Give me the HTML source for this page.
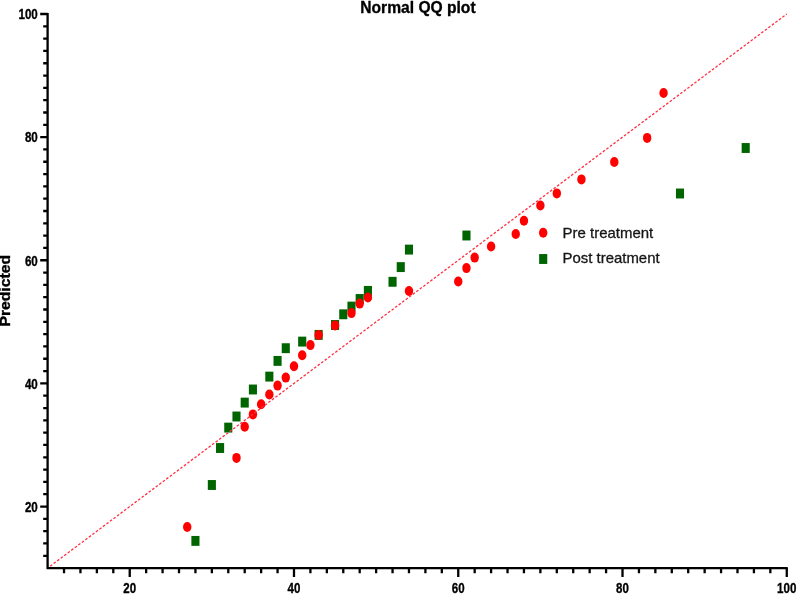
<!DOCTYPE html>
<html><head><meta charset="utf-8"><title>Normal QQ plot</title>
<style>
html,body{margin:0;padding:0;background:#fff;}
body{width:797px;height:595px;overflow:hidden;}
svg{display:block;font-family:'Liberation Sans', Arial, sans-serif;}
</style></head>
<body>
<svg width="797" height="595" viewBox="0 0 797 595">
<rect width="797" height="595" fill="#fff"/>
<rect x="191.38" y="535.95" width="8.1" height="9.9" fill="#006400"/>
<rect x="207.81" y="480.05" width="8.1" height="9.9" fill="#006400"/>
<rect x="216.02" y="443.05" width="8.1" height="9.9" fill="#006400"/>
<rect x="224.24" y="422.65" width="8.1" height="9.9" fill="#006400"/>
<rect x="232.45" y="411.55" width="8.1" height="9.9" fill="#006400"/>
<rect x="240.66" y="397.65" width="8.1" height="9.9" fill="#006400"/>
<rect x="248.87" y="384.55" width="8.1" height="9.9" fill="#006400"/>
<rect x="265.30" y="371.65" width="8.1" height="9.9" fill="#006400"/>
<rect x="273.51" y="355.95" width="8.1" height="9.9" fill="#006400"/>
<rect x="281.73" y="343.25" width="8.1" height="9.9" fill="#006400"/>
<rect x="298.15" y="336.65" width="8.1" height="9.9" fill="#006400"/>
<rect x="314.58" y="329.95" width="8.1" height="9.9" fill="#006400"/>
<rect x="331.00" y="320.05" width="8.1" height="9.9" fill="#006400"/>
<rect x="339.22" y="309.35" width="8.1" height="9.9" fill="#006400"/>
<rect x="347.43" y="301.65" width="8.1" height="9.9" fill="#006400"/>
<rect x="355.64" y="294.05" width="8.1" height="9.9" fill="#006400"/>
<rect x="363.86" y="285.95" width="8.1" height="9.9" fill="#006400"/>
<rect x="388.50" y="276.85" width="8.1" height="9.9" fill="#006400"/>
<rect x="396.71" y="262.15" width="8.1" height="9.9" fill="#006400"/>
<rect x="404.92" y="244.65" width="8.1" height="9.9" fill="#006400"/>
<rect x="462.41" y="230.55" width="8.1" height="9.9" fill="#006400"/>
<rect x="675.95" y="188.55" width="8.1" height="9.9" fill="#006400"/>
<rect x="741.65" y="143.05" width="8.1" height="9.9" fill="#006400"/>
<ellipse cx="187.22" cy="527.00" rx="4.2" ry="5.0" fill="#ff0000"/>
<ellipse cx="236.50" cy="457.90" rx="4.2" ry="5.0" fill="#ff0000"/>
<ellipse cx="244.71" cy="426.80" rx="4.2" ry="5.0" fill="#ff0000"/>
<ellipse cx="252.92" cy="414.40" rx="4.2" ry="5.0" fill="#ff0000"/>
<ellipse cx="261.14" cy="404.20" rx="4.2" ry="5.0" fill="#ff0000"/>
<ellipse cx="269.35" cy="394.50" rx="4.2" ry="5.0" fill="#ff0000"/>
<ellipse cx="277.56" cy="385.60" rx="4.2" ry="5.0" fill="#ff0000"/>
<ellipse cx="285.78" cy="377.60" rx="4.2" ry="5.0" fill="#ff0000"/>
<ellipse cx="293.99" cy="366.20" rx="4.2" ry="5.0" fill="#ff0000"/>
<ellipse cx="302.20" cy="355.20" rx="4.2" ry="5.0" fill="#ff0000"/>
<ellipse cx="310.42" cy="345.10" rx="4.2" ry="5.0" fill="#ff0000"/>
<ellipse cx="318.63" cy="335.00" rx="4.2" ry="5.0" fill="#ff0000"/>
<ellipse cx="335.06" cy="325.40" rx="4.2" ry="5.0" fill="#ff0000"/>
<ellipse cx="351.48" cy="313.10" rx="4.2" ry="5.0" fill="#ff0000"/>
<ellipse cx="359.69" cy="303.60" rx="4.2" ry="5.0" fill="#ff0000"/>
<ellipse cx="367.91" cy="297.50" rx="4.2" ry="5.0" fill="#ff0000"/>
<ellipse cx="408.97" cy="291.00" rx="4.2" ry="5.0" fill="#ff0000"/>
<ellipse cx="458.25" cy="281.50" rx="4.2" ry="5.0" fill="#ff0000"/>
<ellipse cx="466.46" cy="268.10" rx="4.2" ry="5.0" fill="#ff0000"/>
<ellipse cx="474.68" cy="257.60" rx="4.2" ry="5.0" fill="#ff0000"/>
<ellipse cx="491.10" cy="246.50" rx="4.2" ry="5.0" fill="#ff0000"/>
<ellipse cx="515.74" cy="234.00" rx="4.2" ry="5.0" fill="#ff0000"/>
<ellipse cx="523.95" cy="220.70" rx="4.2" ry="5.0" fill="#ff0000"/>
<ellipse cx="540.38" cy="205.50" rx="4.2" ry="5.0" fill="#ff0000"/>
<ellipse cx="556.81" cy="193.40" rx="4.2" ry="5.0" fill="#ff0000"/>
<ellipse cx="581.44" cy="179.40" rx="4.2" ry="5.0" fill="#ff0000"/>
<ellipse cx="614.30" cy="162.00" rx="4.2" ry="5.0" fill="#ff0000"/>
<ellipse cx="647.15" cy="137.90" rx="4.2" ry="5.0" fill="#ff0000"/>
<ellipse cx="663.57" cy="93.00" rx="4.2" ry="5.0" fill="#ff0000"/>
<line x1="47.60" y1="568.10" x2="786.77" y2="14.00" stroke="#ff3040" stroke-width="1.3" stroke-dasharray="2.6 1.8" stroke-dashoffset="1.25"/>
<path d="M47.60 13.00V569.10M46.60 568.10H787.77" stroke="#000" stroke-width="2.3" fill="none"/>
<path d="M43.2 555.79H47.60M43.2 543.47H47.60M43.2 531.16H47.60M43.2 518.85H47.60M40.2 506.53H47.60M43.2 494.22H47.60M43.2 481.91H47.60M43.2 469.59H47.60M43.2 457.28H47.60M43.2 444.97H47.60M43.2 432.65H47.60M43.2 420.34H47.60M43.2 408.03H47.60M43.2 395.71H47.60M40.2 383.40H47.60M43.2 371.09H47.60M43.2 358.77H47.60M43.2 346.46H47.60M43.2 334.15H47.60M43.2 321.83H47.60M43.2 309.52H47.60M43.2 297.21H47.60M43.2 284.89H47.60M43.2 272.58H47.60M40.2 260.27H47.60M43.2 247.95H47.60M43.2 235.64H47.60M43.2 223.32H47.60M43.2 211.01H47.60M43.2 198.70H47.60M43.2 186.38H47.60M43.2 174.07H47.60M43.2 161.76H47.60M43.2 149.44H47.60M40.2 137.13H47.60M43.2 124.82H47.60M43.2 112.50H47.60M43.2 100.19H47.60M43.2 87.88H47.60M43.2 75.56H47.60M43.2 63.25H47.60M43.2 50.94H47.60M43.2 38.62H47.60M43.2 26.31H47.60M40.2 14.00H47.60M64.03 568.10V573.2M80.45 568.10V573.2M96.88 568.10V573.2M113.30 568.10V573.2M129.73 568.10V577M146.16 568.10V573.2M162.58 568.10V573.2M179.01 568.10V573.2M195.43 568.10V573.2M211.86 568.10V573.2M228.29 568.10V573.2M244.71 568.10V573.2M261.14 568.10V573.2M277.56 568.10V573.2M293.99 568.10V577M310.42 568.10V573.2M326.84 568.10V573.2M343.27 568.10V573.2M359.69 568.10V573.2M376.12 568.10V573.2M392.55 568.10V573.2M408.97 568.10V573.2M425.40 568.10V573.2M441.82 568.10V573.2M458.25 568.10V577M474.68 568.10V573.2M491.10 568.10V573.2M507.53 568.10V573.2M523.95 568.10V573.2M540.38 568.10V573.2M556.81 568.10V573.2M573.23 568.10V573.2M589.66 568.10V573.2M606.08 568.10V573.2M622.51 568.10V577M638.94 568.10V573.2M655.36 568.10V573.2M671.79 568.10V573.2M688.21 568.10V573.2M704.64 568.10V573.2M721.07 568.10V573.2M737.49 568.10V573.2M753.92 568.10V573.2M770.34 568.10V573.2M786.77 568.10V577" stroke="#000" stroke-width="2.3" fill="none"/>
<text x="37.8" y="511.83" text-anchor="end" font-size="14.6" font-weight="bold" stroke="#000" stroke-width="0.35" textLength="12.9" lengthAdjust="spacingAndGlyphs">20</text>
<text x="37.8" y="388.70" text-anchor="end" font-size="14.6" font-weight="bold" stroke="#000" stroke-width="0.35" textLength="12.9" lengthAdjust="spacingAndGlyphs">40</text>
<text x="37.8" y="265.57" text-anchor="end" font-size="14.6" font-weight="bold" stroke="#000" stroke-width="0.35" textLength="12.9" lengthAdjust="spacingAndGlyphs">60</text>
<text x="37.8" y="142.43" text-anchor="end" font-size="14.6" font-weight="bold" stroke="#000" stroke-width="0.35" textLength="12.9" lengthAdjust="spacingAndGlyphs">80</text>
<text x="37.8" y="19.30" text-anchor="end" font-size="14.6" font-weight="bold" stroke="#000" stroke-width="0.35" textLength="19.3" lengthAdjust="spacingAndGlyphs">100</text>
<text x="129.73" y="593.2" text-anchor="middle" font-size="14.6" font-weight="bold" stroke="#000" stroke-width="0.35" textLength="12.8" lengthAdjust="spacingAndGlyphs">20</text>
<text x="293.99" y="593.2" text-anchor="middle" font-size="14.6" font-weight="bold" stroke="#000" stroke-width="0.35" textLength="12.8" lengthAdjust="spacingAndGlyphs">40</text>
<text x="458.25" y="593.2" text-anchor="middle" font-size="14.6" font-weight="bold" stroke="#000" stroke-width="0.35" textLength="12.8" lengthAdjust="spacingAndGlyphs">60</text>
<text x="622.51" y="593.2" text-anchor="middle" font-size="14.6" font-weight="bold" stroke="#000" stroke-width="0.35" textLength="12.8" lengthAdjust="spacingAndGlyphs">80</text>
<text x="786.77" y="593.2" text-anchor="middle" font-size="14.6" font-weight="bold" stroke="#000" stroke-width="0.35" textLength="19.3" lengthAdjust="spacingAndGlyphs">100</text>
<text x="360.3" y="13.3" font-size="17.2" font-weight="bold" stroke="#000" stroke-width="0.35" textLength="115.3" lengthAdjust="spacingAndGlyphs">Normal QQ plot</text>
<text transform="translate(10.2 326.6) rotate(-90)" x="0" y="0" font-size="13.8" font-weight="bold" stroke="#000" stroke-width="0.35" textLength="71.6" lengthAdjust="spacingAndGlyphs">Predicted</text>
<ellipse cx="543.2" cy="232.7" rx="4.2" ry="5.0" fill="#ff0000"/>
<rect x="539.15" y="254.05" width="8.1" height="9.9" fill="#006400"/>
<text x="562.6" y="238.4" font-size="15" fill="#151515" stroke="#151515" stroke-width="0.3" textLength="90.6" lengthAdjust="spacingAndGlyphs">Pre treatment</text>
<text x="562.6" y="263.4" font-size="15" fill="#151515" stroke="#151515" stroke-width="0.3" textLength="97.0" lengthAdjust="spacingAndGlyphs">Post treatment</text>
</svg>
</body></html>
